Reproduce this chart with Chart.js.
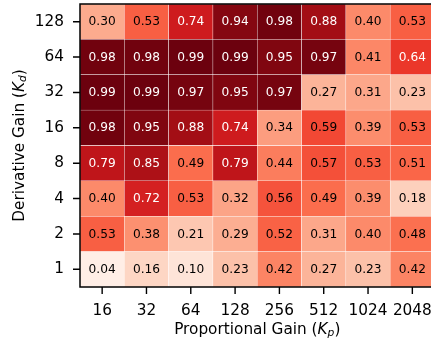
<!DOCTYPE html>
<html>
<head>
<meta charset="utf-8">
<script src="https://cdn.jsdelivr.net/npm/chart.js@4/dist/chart.umd.min.js"></script>
<style>
  html, body { margin: 0; padding: 0; background: #fff; overflow: hidden; }
  #wrap { width: 440px; height: 343px; }
</style>
</head>
<body>
<div id="wrap"><canvas id="c" width="440" height="343"></canvas></div>
<script>
// Proportional gain (columns) and derivative gain (rows, bottom to top)
const kpLabels = ['16', '32', '64', '128', '256', '512', '1024', '2048'];
const kdLabels = ['1', '2', '4', '8', '16', '32', '64', '128'];

// Success rate for each Kd row, one value per Kp column
const kd1   = [0.04, 0.16, 0.10, 0.23, 0.42, 0.27, 0.23, 0.42];
const kd2   = [0.53, 0.38, 0.21, 0.29, 0.52, 0.31, 0.40, 0.48];
const kd4   = [0.40, 0.72, 0.53, 0.32, 0.56, 0.49, 0.39, 0.18];
const kd8   = [0.79, 0.85, 0.49, 0.79, 0.44, 0.57, 0.53, 0.51];
const kd16  = [0.98, 0.95, 0.88, 0.74, 0.34, 0.59, 0.39, 0.53];
const kd32  = [0.99, 0.99, 0.97, 0.95, 0.97, 0.27, 0.31, 0.23];
const kd64  = [0.98, 0.98, 0.99, 0.99, 0.95, 0.97, 0.41, 0.64];
const kd128 = [0.30, 0.53, 0.74, 0.94, 0.98, 0.88, 0.40, 0.53];

const rows = [kd1, kd2, kd4, kd8, kd16, kd32, kd64, kd128];

const FONT = 'DejaVu Sans';
const TICK_SIZE = 15.3;
const CELL_SIZE = 12.2;
const TICK_LEN = 7;

// Sequential "Reds" colour ramp
const REDS = [
  [255, 245, 240], [254, 224, 210], [252, 187, 161], [252, 146, 114],
  [251, 106, 74], [239, 59, 44], [203, 24, 29], [165, 15, 21], [103, 0, 13]
];
function reds(v) {
  const t = Math.max(0, Math.min(1, v)) * (REDS.length - 1);
  const i = Math.min(REDS.length - 2, Math.floor(t));
  const f = t - i;
  const a = REDS[i], b = REDS[i + 1];
  const c = a.map((x, k) => Math.round(x + (b[k] - x) * f));
  return `rgb(${c[0]},${c[1]},${c[2]})`;
}

const datasets = rows.map((vals, r) => ({
  label: 'Kd ' + kdLabels[r],
  data: vals.map(() => [r - 0.5, r + 0.5]),
  values: vals,
  backgroundColor: ctx => reds(vals[ctx.dataIndex]),
  borderColor: 'rgba(255,255,255,0.85)',
  borderWidth: 0.5,
  borderSkipped: false,
  grouped: false,
  barPercentage: 1,
  categoryPercentage: 1
}));

// Writes each cell's value at its centre
const cellText = {
  id: 'cellText',
  afterDatasetsDraw(chart) {
    const ctx = chart.ctx;
    ctx.save();
    ctx.font = `${CELL_SIZE}px "${FONT}"`;
    ctx.textAlign = 'center';
    ctx.textBaseline = 'middle';
    chart.data.datasets.forEach((ds, di) => {
      const meta = chart.getDatasetMeta(di);
      meta.data.forEach((bar, i) => {
        const v = ds.values[i];
        ctx.fillStyle = v > 0.6 ? '#ffffff' : '#000000';
        ctx.fillText(v.toFixed(2), bar.x, (bar.y + bar.base) / 2 + 0.5);
      });
    });
    ctx.restore();
  }
};

// Draws a label such as "Proportional Gain (K_p)" with italic K and subscript
function drawGainLabel(ctx, prefix, sub, cx, cy, rotate) {
  const size = TICK_SIZE;
  const regular = `${size}px "${FONT}"`;
  const italic = `oblique ${size}px "${FONT}"`;
  const subFont = `oblique ${size * 0.7}px "${FONT}"`;
  const parts = [
    { t: prefix + ' (', f: regular, dy: 0 },
    { t: 'K', f: italic, dy: 0 },
    { t: sub, f: subFont, dy: 2.3 },
    { t: ')', f: regular, dy: 0 }
  ];
  ctx.save();
  let total = 0;
  parts.forEach(p => { ctx.font = p.f; p.w = ctx.measureText(p.t).width; total += p.w; });
  ctx.translate(cx, cy);
  if (rotate) ctx.rotate(-Math.PI / 2);
  ctx.fillStyle = '#000';
  ctx.textAlign = 'left';
  ctx.textBaseline = 'alphabetic';
  let x = -total / 2;
  parts.forEach(p => {
    ctx.font = p.f;
    ctx.fillText(p.t, x, p.dy);
    x += p.w;
  });
  ctx.restore();
}

// Axis frame, outward tick marks and the two axis titles, drawn above the cells
const frame = {
  id: 'frame',
  afterDraw(chart) {
    const { ctx, chartArea: a } = chart;
    const xs = chart.scales.x, ys = chart.scales.y;
    ctx.save();
    ctx.strokeStyle = '#000';
    ctx.lineCap = 'butt';
    ctx.lineWidth = 1.4;
    ctx.beginPath();
    xs.ticks.forEach((t, i) => {
      const px = xs.getPixelForTick(i);
      ctx.moveTo(px, a.bottom);
      ctx.lineTo(px, a.bottom + TICK_LEN);
    });
    ys.ticks.forEach((t, i) => {
      const py = ys.getPixelForTick(i);
      ctx.moveTo(a.left - TICK_LEN, py);
      ctx.lineTo(a.left, py);
    });
    ctx.stroke();
    ctx.lineWidth = 1.5;
    ctx.lineJoin = 'miter';
    ctx.strokeRect(a.left, a.top, a.right - a.left, a.bottom - a.top);
    ctx.restore();
    drawGainLabel(ctx, 'Proportional Gain', 'p', (a.left + a.right) / 2, 334, false);
    drawGainLabel(ctx, 'Derivative Gain', 'd', 24, (a.top + a.bottom) / 2, true);
  }
};

const hiddenGrid = { drawOnChartArea: false, drawTicks: true, tickLength: TICK_LEN, color: 'rgba(0,0,0,0)' };

new Chart(document.getElementById('c'), {
  type: 'bar',
  data: { labels: kpLabels, datasets },
  plugins: [cellText, frame],
  options: {
    responsive: false,
    animation: false,
    events: [],
    layout: { padding: { top: 4, right: 5.5, left: 0, bottom: 0 } },
    plugins: { legend: { display: false }, tooltip: { enabled: false } },
    scales: {
      x: {
        type: 'category',
        offset: true,
        afterFit: s => { s.height = 56; s.paddingLeft = 0; s.paddingRight = 0; },
        grid: Object.assign({ offset: false }, hiddenGrid),
        border: { display: false },
        ticks: { color: '#000', font: { family: FONT, size: TICK_SIZE }, padding: 8, maxRotation: 0, autoSkip: false }
      },
      y: {
        type: 'linear',
        min: -0.5,
        max: 7.5,
        afterFit: s => { s.width = 80; s.paddingTop = 0; s.paddingBottom = 0; },
        afterBuildTicks: s => { s.ticks = kdLabels.map((_, i) => ({ value: i })); },
        grid: hiddenGrid,
        border: { display: false },
        ticks: {
          color: '#000',
          font: { family: FONT, size: TICK_SIZE },
          padding: 9,
          autoSkip: false,
          callback: v => kdLabels[Math.round(v)]
        }
      }
    }
  }
});
</script>
</body>
</html>
